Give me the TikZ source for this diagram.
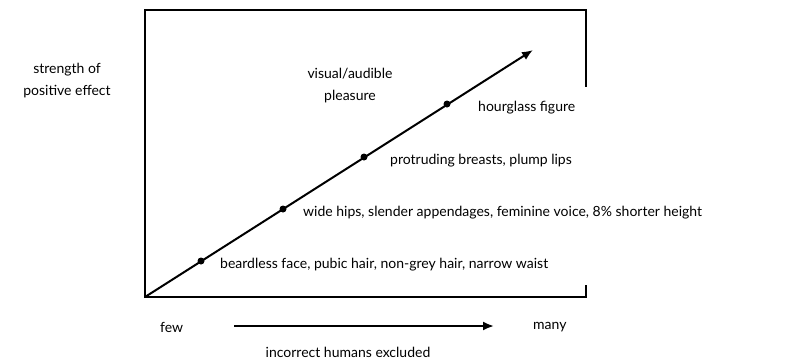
\documentclass[tikz,border=0pt]{standalone}
\usepackage{fontspec}
\setmainfont{Lato}
\usepackage{tikz}
\usetikzlibrary{arrows.meta, positioning}
\tikzset{
  frame/.style={line width=2pt, line cap=rect},
  arrow/.style={-{Latex[length=11pt, width=9pt]}, line width=2pt},
  dot/.style={circle, fill=black, inner sep=0pt, minimum size=7pt},
  lbl/.style={font=\fontsize{14}{22}\selectfont, anchor=west, inner sep=0pt},
  axislbl/.style={font=\fontsize{14}{22}\selectfont, align=center, inner sep=0pt},
}

\begin{document}
\begin{tikzpicture}[x=1pt, y=-1pt]
  \useasboundingbox (0,0) rectangle (797,360);
  % frame, open on the right where the labels sit
  \coordinate (o) at (145,297);
  \coordinate (tl) at (145,10);
  \coordinate (tr) at (586,10);
  \coordinate (br) at (586,297);
  \draw[frame] (586,86) -- (tr) -- (tl) -- (o) -- (br) -- (586,286);
  % diagonal
  \coordinate (tip) at (533,50);
  \draw[arrow] (o) -- (tip);
  % steps on the diagonal
  \foreach \name/\x/\y/\lx/\txt in {
      d1/201/261/220/{beardless face, pubic hair, non-grey hair, narrow waist},
      d2/283/209/303/{wide hips, slender appendages, feminine voice, 8\% shorter height},
      d3/364/157/390/{protruding breasts, plump lips},
      d4/447/104/478/{hourglass figure}}{
    \node[dot] (\name) at (\x,\y) {};
    \node[lbl] (\name-lbl) at (\lx,\y+4) {\txt};
  }
  \node[axislbl] (pleasure) at (350,86) {visual/audible\\pleasure};
  % axes
  \node[axislbl] (ylbl) at (67,81) {strength of\\positive effect};
  \node[lbl, anchor=west] (few) at (160,327) {few};
  \node[lbl, anchor=west] (many) at (533,327) {many};
  \coordinate (xs) at (234,326);
  \coordinate (xe) at (494,326);
  \draw[arrow] (xs) -- (xe);
  \node[axislbl] (xlbl) at (348,352) {incorrect humans excluded};
\end{tikzpicture}
\end{document}
